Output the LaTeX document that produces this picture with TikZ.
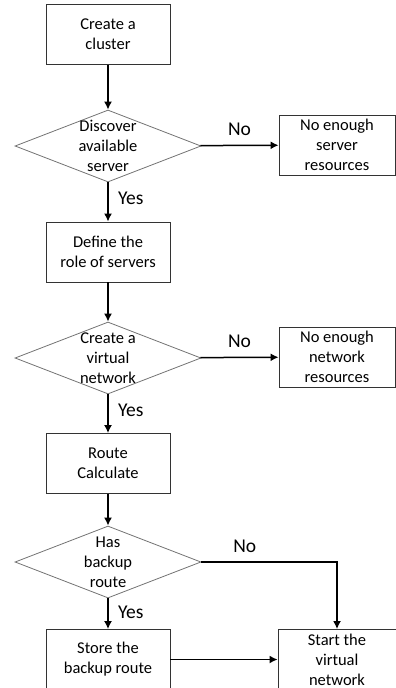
\documentclass[tikz,border=0pt]{standalone}
\usepackage{fontspec}
\setmainfont{Carlito}
\usetikzlibrary{shapes.geometric,arrows.meta}

\begin{document}
\begin{tikzpicture}[x=1pt,y=1pt]
\tikzstyle{every node}+=[font=\fontsize{16.5}{20}\selectfont]
\tikzstyle{box}=[draw=black!80, line width=0.9pt, minimum width=124, minimum height=60, align=center, inner sep=0pt]
\tikzstyle{sidebox}=[box, minimum width=116]
\tikzstyle{decision}=[diamond, draw=black!55, line width=0.8pt, minimum width=186, minimum height=72, inner sep=0pt]
\tikzstyle{flow}=[black, line width=1.5pt, -{Latex[length=8pt,width=8pt]}]
\tikzstyle{answer}=[font=\fontsize{19.5}{22}\selectfont]
\useasboundingbox (0,0) rectangle (396,-688);
\node[box] (cluster) at (108,-34.5) {Create a\\cluster};
\node[decision, label={[align=center]center:Discover\\available\\server}] (discover) at (108,-146) {};
\node[sidebox] (noserver) at (337,-145) {No enough\\server\\resources};
\node[box] (roles) at (108,-252) {Define the\\role of servers};
\node[decision, label={[align=center]center:Create a\\virtual\\network}] (vnet) at (108,-358) {};
\node[sidebox] (nonetwork) at (337,-357) {No enough\\network\\resources};
\node[box] (route) at (108,-463.5) {Route\\Calculate};
\node[decision, label={[align=center]center:Has\\backup\\route}] (backup) at (108,-562) {};
\node[box] (store) at (108,-659.5) {Store the\\backup route};
\node[sidebox, minimum width=118] (start) at (337,-659.5) {Start the\\virtual\\network};
\draw[flow] (cluster) -- (discover);
\draw[flow] (discover) -- node[answer, right=6pt, yshift=4pt] {Yes} (roles);
\draw[flow] (discover) -- node[answer, above=6pt] {No} (noserver);
\draw[flow] (roles) -- (vnet);
\draw[flow] (vnet) -- node[answer, right=6pt, yshift=3pt] {Yes} (route);
\draw[flow] (vnet) -- node[answer, above=6pt] {No} (nonetwork);
\draw[flow] (route) -- (backup);
\draw[flow] (backup) -- node[answer, right=6pt, yshift=1pt] {Yes} (store);
\draw[flow] (backup) -| node[answer, above=5pt, pos=0.16] {No} (start);
\draw[flow] (store) -- (start);
\end{tikzpicture}
\end{document}
